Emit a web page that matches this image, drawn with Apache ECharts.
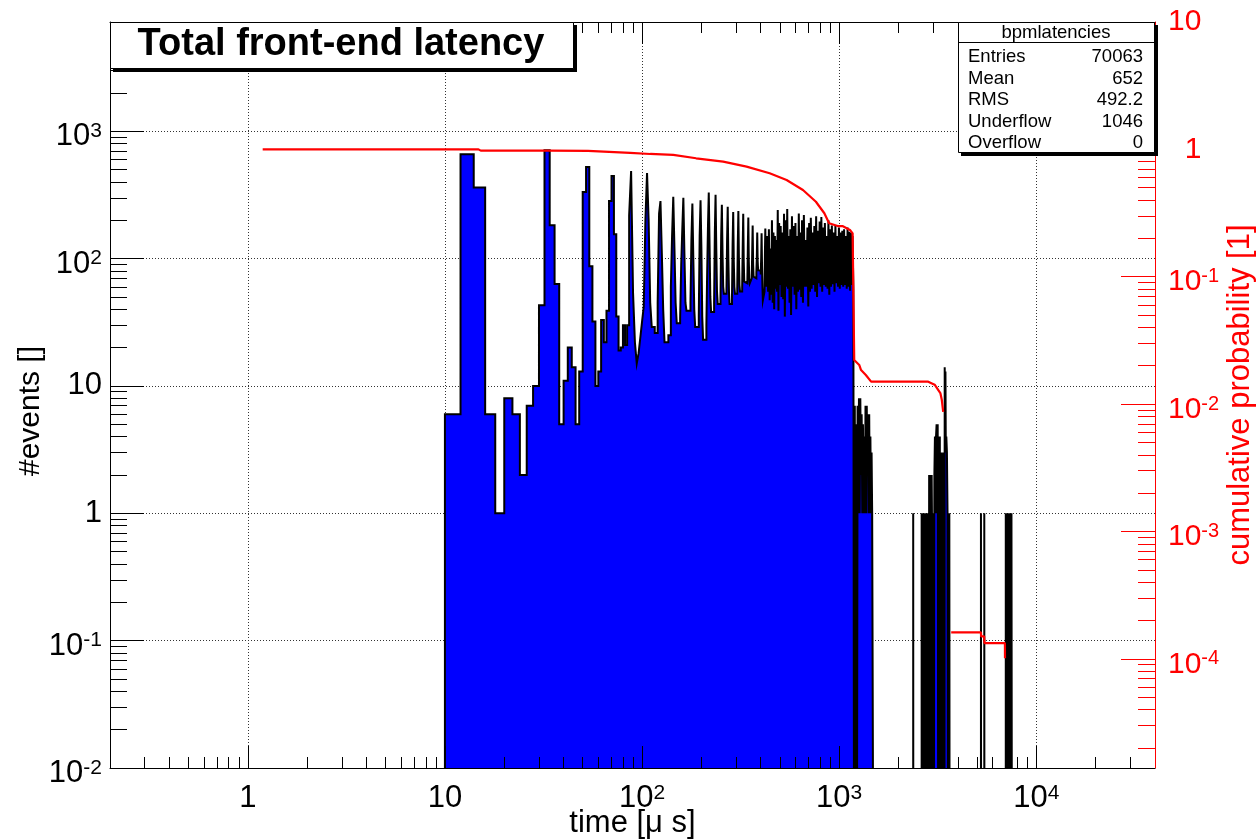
<!DOCTYPE html>
<html>
<head>
<meta charset="utf-8">
<script src="https://cdn.jsdelivr.net/npm/echarts@6/dist/echarts.min.js"></script>
<style>
html,body{margin:0;padding:0;background:#fff;}
#chart{width:1256px;height:840px;}
</style>
</head>
<body>
<div id="chart"></div>
<script>
// ---------------- data ----------------
// histogram: lower bin edges [µs] and counts; last bin ends at histEnd
const histEdges = [
  10,12,14,16,18,20,22,24,26,28,30,32,34,36,38,40,42,44,46,48,50,52,54,56,58,60,62,64,66,68,70,72,74,76,78,80,82,84,86,88,90,92,94,
  96,98,100,102,104,106,108,110,112,116,120,122,124,126,128,130,136,140,142,144,146,148,150,156,158,160,162,164,166,168,176,178,180,182,184,186,194,196,198,200,202,204,212,214,216,218,220,222,224,232,234,236,238,240,242,250,252,254,256,258,260,268,270,272,274,276,278,286,288,290,292,294,296,304,306,308,310,312,314,322,324,326,328,330,332,342,344,346,348,350,352,360,362,364,366,368,370,380,382,384,386,388,390,400,402,404,406,408,410,418,420,422,424,426,
  428,432,436,440,444,448,452,456,460,464,468,472,476,480,484,488,492,496,500,
  505,510,515,520,525,530,535,540,545,550,555,560,565,570,
  576,582,588,594,600,606,612,618,624,630,636,642,648,
  655,662,669,676,683,690,697,704,711,718,725,732,
  740,748,756,764,772,780,788,796,804,812,820,828,
  837,846,855,864,873,882,891,900,909,918,927,
  937,947,957,967,977,987,997,1007,1017,1027,1037,
  1048,1059,1070,1081,1092,1103,1114,1125,1136,1147,1158,1169,1180,
  1190,1200,1210,1220,1230,1240,1250,1260,1270,1280,1290,1300,1310,1320,1330,1340,1350,1360,1370,1380,1390,1400,1410,1420,1430,1440,1450,1460,1470,1480,1490,
  2374,2377,
  2620,2645,2670,2695,2720,2745,2770,2795,2820,2845,2860,2870,2890,2905,2915,2930,2945,2955,2975,3000,3020,3040,3060,3080,3100,3120,3140,3160,3180,3200,3220,3240,3260,3280,3300,3320,3340,3360,3380,3400,3420,3430,3445,3460,3475,3495,3520,3545,3565,3585,3605,3620,3632,
  5238,5246,5446,5454,
  7000,7040,7080,7120,7160,7200,7240,7280,7320,7360,7400,7440,7480,7520
];
const histCounts = [
  6,659,361,6,1,8,6,2,7,10,43,708,183,63,5,11,20,14,5,13,333,524,87,32,10,13,33,22,39,283,445,155,35,19,20,30,21,30,219,487,54,22,15,
  18,24,32,42,200,470,200,45,29,26,45,226,283,110,40,22,25,60,150,305,120,45,31,34,90,170,300,110,45,39,45,140,270,100,40,29,35,150,287,120,35,23,30,80,180,330,130,50,38,45,160,317,120,55,44,50,150,265,110,60,53,55,140,255,100,55,44,52,130,232,95,60,53,58,130,236,100,62,55,60,120,225,95,66,64,66,120,210,95,70,64,70,110,182,90,72,70,78,100,160,95,81,80,75,100,158,90,60,47,55,110,172,100,60,
  60,150,55,170,47,120,52,200,45,160,40,150,58,140,55,240,39,190,62,
  180,50,160,48,225,35,200,60,245,58,150,45,170,36,
  215,60,180,52,190,40,150,55,226,57,160,50,200,
  45,220,60,140,60,175,42,190,55,209,58,160,
  62,180,55,215,50,165,64,195,60,212,55,175,
  62,190,60,150,58,200,52,170,60,182,63,
  160,55,182,64,150,60,175,58,160,62,165,
  60,170,62,150,58,175,60,162,56,160,62,150,58,
  0,7,0,5,0,7,1,8,1,8,2,6,1,5,1,4,1,7,1,7,2,6,1,6,1,4,1,3,1,1,0,
  1,0,
  1,0,1,0,1,0,1,0,1,0,2,0,1,2,0,1,2,1,0,1,0,2,4,1,4,5,1,5,0,4,1,4,0,3,1,3,0,2,1,3,0,14,5,13,3,4,3,1,0,1,0,1,0,
  1,0,1,0,
  1,0,1,0,1,0,1,0,1,0,1,0,1,0
];
const histEnd = 7550;

// cumulative probability curve (right axis); null = gap in the drawn curve
const cumTime = [1.19,14.8,15.2,33.6,34.2,53.2,53.8,87,110,144,188,258,339,444,541,655,762,841,889,983,1039,1134,1170,1192,1264,1291,1365,1452,2830,3050,3260,3315,3370,3400,3700,5240,5250,5440,5455,6930,6935];
const cumProb = [1.0,1.0,0.977,0.977,0.972,0.972,0.949,0.94,0.92,0.904,0.851,0.801,0.732,0.649,0.575,0.48,0.388,0.315,0.263,0.25,0.25,0.233,0.219,0.0222,0.0203,0.0185,0.0169,0.015,0.015,0.0142,0.0122,0.0108,0.0087,null,1.61e-4,1.61e-4,1.5e-4,1.5e-4,1.33e-4,1.33e-4,1.01e-4];

// axis ticks and labels
const xMajorTicks = [1,10,100,1000,10000];
const xMinorTicks = [0.3,0.4,0.5,0.6,0.7,0.8,0.9,2,3,4,5,6,7,8,9,20,30,40,50,60,70,80,90,200,300,400,500,600,700,800,900,2000,3000,4000,5000,6000,7000,8000,9000,20000,30000];
const yLeftMajorTicks = [0.1,1,10,100,1000];
const yLeftLabels = [0.01,0.1,1,10,100,1000];
const yLeftMinorTicks = [0.02,0.03,0.04,0.05,0.06,0.07,0.08,0.09,0.2,0.3,0.4,0.5,0.6,0.7,0.8,0.9,2,3,4,5,6,7,8,9,20,30,40,50,60,70,80,90,200,300,400,500,600,700,800,900,2000,3000,4000,5000,6000,7000];
const yRightMajorTicks = [1e-4,1e-3,1e-2,1e-1,1];
const yRightLabels = [1e-4,1e-3,1e-2,1e-1,1,10];
const yRightMinorTicks = [2e-5,3e-5,4e-5,5e-5,6e-5,7e-5,8e-5,9e-5,2e-4,3e-4,4e-4,5e-4,6e-4,7e-4,8e-4,9e-4,2e-3,3e-3,4e-3,5e-3,6e-3,7e-3,8e-3,9e-3,0.02,0.03,0.04,0.05,0.06,0.07,0.08,0.09,0.2,0.3,0.4,0.5,0.6,0.7,0.8,0.9,2,3,4,5,6,7,8,9];

// texts
const titleText = 'Total front-end latency';
const xTitle = 'time [μ s]';
const yTitle = '#events []';
const yRightTitle = 'cumulative probability [1]';
const statsName = 'bpmlatencies';
const statsLabels = ['Entries','Mean','RMS','Underflow','Overflow'];
const statsValues = ['70063','652','492.2','1046','0'];

// ---------------- chart ----------------
const FONT = '"Liberation Sans", Arial, Helvetica, sans-serif';
const RED = '#ff0000';
const X_MIN = 0.2, X_MAX = 40000;
const YL_MIN = 0.01, YL_MAX = 7200;
const YR_MIN = 0.01 / 720, YR_MAX = 10;
const FLOOR = 1e-3; // empty bins are drawn below the axis floor

const histPoints = [[histEdges[0], FLOOR]];
for (let i = 0; i < histEdges.length; i++) {
  histPoints.push([histEdges[i], histCounts[i] > 0 ? histCounts[i] : FLOOR]);
}
histPoints.push([histEnd, FLOOR]);

const cumPoints = cumTime.map((t, i) => [t, cumProb[i]]);

function expOf(v) { return Math.round(Math.log10(v)); }
function xLabel(v) {
  const e = expOf(v);
  if (e === 0) return '{b|1}';
  if (e === 1) return '{b|10}';
  return '{b|10}{s|' + e + '}';
}
function yLabel(v) {
  const e = expOf(v);
  if (e === 0) return '{b|1}';
  if (e === 1) return '{b|10}';
  return '{p|10}{s|' + e + '}';
}
function rLabel(v) {
  const e = expOf(v);
  if (e === 0) return '{g|1}{b|1}';
  if (e === 1) return '{b|10}';
  return '{p|10}{s|' + e + '}';
}

const xRich = {
  b: { fontSize: 31, lineHeight: 31, fontFamily: FONT, color: '#000' },
  s: { fontSize: 21, lineHeight: 21, fontFamily: FONT, color: '#000', verticalAlign: 'top' }
};
const yRich = {
  b: { fontSize: 31, lineHeight: 31, fontFamily: FONT, color: '#000' },
  p: { fontSize: 31, lineHeight: 31, fontFamily: FONT, color: '#000', padding: [11, 0, 0, 0] },
  s: { fontSize: 21, lineHeight: 21, fontFamily: FONT, color: '#000', verticalAlign: 'middle' }
};
const rRich = {
  b: { fontSize: 30, lineHeight: 30, fontFamily: FONT, color: RED },
  g: { fontSize: 30, lineHeight: 30, fontFamily: FONT, color: 'rgba(0,0,0,0)' },
  p: { fontSize: 30, lineHeight: 30, fontFamily: FONT, color: RED, padding: [11, 0, 0, 0] },
  s: { fontSize: 20, lineHeight: 20, fontFamily: FONT, color: RED, verticalAlign: 'middle' }
};

const gridLine = { show: true, lineStyle: { color: '#333', width: 1, type: [1, 2] } };
const none = { show: false };

function xAxisDef(extra) {
  return Object.assign({
    type: 'log', logBase: 10, min: X_MIN, max: X_MAX, splitNumber: 6,
    axisLine: { show: false, onZero: false }, axisTick: none, axisLabel: none, splitLine: none,
    axisPointer: { show: false }
  }, extra);
}
function yAxisDef(extra) {
  return Object.assign({
    type: 'log', logBase: 10, splitNumber: 6,
    axisLine: { show: false, onZero: false }, axisTick: none, axisLabel: none, splitLine: none,
    axisPointer: { show: false }
  }, extra);
}
function ticks(values, len, color) {
  return { show: true, inside: true, length: len, customValues: values, lineStyle: { color: color, width: 1 } };
}

const option = {
  animation: false,
  backgroundColor: '#fff',
  textStyle: { fontFamily: FONT },
  grid: { left: 110, right: 101, top: 22, bottom: 72, containLabel: false, outerBoundsMode: 'none' },
  xAxis: [
    xAxisDef({
      position: 'bottom', z: 0,
      splitLine: gridLine,
      axisLabel: { show: true, customValues: xMajorTicks, formatter: xLabel, margin: 15, rich: xRich },
      name: xTitle, nameLocation: 'middle', nameGap: 40, nameMoveOverlap: false,
      nameTextStyle: { fontSize: 31, fontFamily: FONT, color: '#000' }
    }),
    xAxisDef({ position: 'bottom', z: 10, axisLine: { show: true, onZero: false, lineStyle: { color: '#000', width: 1 } }, axisTick: ticks(xMajorTicks, 22, '#000') }),
    xAxisDef({ position: 'bottom', z: 10, axisTick: ticks(xMinorTicks, 11, '#000') }),
    xAxisDef({ position: 'top', z: 10, axisLine: { show: true, onZero: false, lineStyle: { color: '#000', width: 1 } }, axisTick: ticks(xMajorTicks, 22, '#000') }),
    xAxisDef({ position: 'top', z: 10, axisTick: ticks(xMinorTicks, 11, '#000') })
  ],
  yAxis: [
    yAxisDef({
      position: 'left', min: YL_MIN, max: YL_MAX, z: 0,
      splitLine: gridLine,
      axisLabel: { show: true, customValues: yLeftLabels, formatter: yLabel, margin: 8, rich: yRich },
      name: yTitle, nameLocation: 'middle', nameGap: 64, nameRotate: 90, nameMoveOverlap: false,
      nameTextStyle: { fontSize: 30, fontFamily: FONT, color: '#000', padding: [0, 32, 0, 0] }
    }),
    yAxisDef({ position: 'left', min: YL_MIN, max: YL_MAX, z: 10, axisLine: { show: true, onZero: false, lineStyle: { color: '#000', width: 1 } }, axisTick: ticks(yLeftMajorTicks, 34, '#000') }),
    yAxisDef({ position: 'left', min: YL_MIN, max: YL_MAX, z: 10, axisTick: ticks(yLeftMinorTicks, 17, '#000') }),
    yAxisDef({
      position: 'right', min: YR_MIN, max: YR_MAX, z: 10,
      axisLine: { show: true, onZero: false, lineStyle: { color: RED, width: 1 } },
      axisTick: ticks(yRightMajorTicks, 34, RED),
      axisLabel: { show: true, customValues: yRightLabels, formatter: rLabel, margin: 13, rich: rRich },
      name: yRightTitle, nameLocation: 'middle', nameGap: 70, nameRotate: 90, nameMoveOverlap: false,
      nameTextStyle: { fontSize: 31, fontFamily: FONT, color: RED }
    }),
    yAxisDef({ position: 'right', min: YR_MIN, max: YR_MAX, z: 10, axisTick: ticks(yRightMinorTicks, 17, RED) })
  ],
  series: [
    {
      name: statsName, type: 'line', step: 'end', data: histPoints,
      xAxisIndex: 0, yAxisIndex: 0, symbol: 'none', clip: true, z: 2, silent: true,
      lineStyle: { color: '#000', width: 2, join: 'miter' },
      areaStyle: { color: '#0000ff', opacity: 1, origin: 'start' }
    },
    {
      name: 'cumulative', type: 'line', data: cumPoints,
      xAxisIndex: 0, yAxisIndex: 3, symbol: 'none', clip: true, z: 4, silent: true,
      connectNulls: false,
      lineStyle: { color: RED, width: 2.2 }
    }
  ],
  graphic: [
    // title box with shadow
    { type: 'rect', z: 100, shape: { x: 113, y: 25, width: 464, height: 47 }, style: { fill: '#000' } },
    { type: 'rect', z: 101, shape: { x: 110.5, y: 22.5, width: 463, height: 46 }, style: { fill: '#fff', stroke: '#000', lineWidth: 1 } },
    { type: 'text', z: 102, x: 341, y: 45,
      style: { text: titleText, font: 'bold 38px ' + FONT, fill: '#000', align: 'center', verticalAlign: 'middle', textAlign: 'center', textVerticalAlign: 'middle' } },
    // statistics box with shadow
    { type: 'rect', z: 100, shape: { x: 961, y: 25, width: 197, height: 131 }, style: { fill: '#000' } },
    { type: 'rect', z: 101, shape: { x: 958.5, y: 22.5, width: 196, height: 130 }, style: { fill: '#fff', stroke: '#000', lineWidth: 1 } },
    { type: 'line', z: 102, shape: { x1: 958.5, y1: 42.5, x2: 1154.5, y2: 42.5 }, style: { stroke: '#000', lineWidth: 1 } },
    { type: 'text', z: 102, x: 1056, y: 32.5,
      style: { text: statsName, font: '18.5px ' + FONT, fill: '#000', align: 'center', verticalAlign: 'middle', textAlign: 'center', textVerticalAlign: 'middle' } }
  ].concat(statsLabels.map((lab, i) => ({
    type: 'text', z: 102, x: 968, y: 57 + i * 21.5,
    style: { text: lab, font: '18.5px ' + FONT, fill: '#000', align: 'left', verticalAlign: 'middle', textAlign: 'left', textVerticalAlign: 'middle' }
  }))).concat(statsValues.map((val, i) => ({
    type: 'text', z: 102, x: 1143, y: 57 + i * 21.5,
    style: { text: val, font: '18.5px ' + FONT, fill: '#000', align: 'right', verticalAlign: 'middle', textAlign: 'right', textVerticalAlign: 'middle' }
  })))
};

const chart = echarts.init(document.getElementById('chart'), null, { renderer: 'canvas', width: 1256, height: 840 });
chart.setOption(option);
</script>
</body>
</html>
